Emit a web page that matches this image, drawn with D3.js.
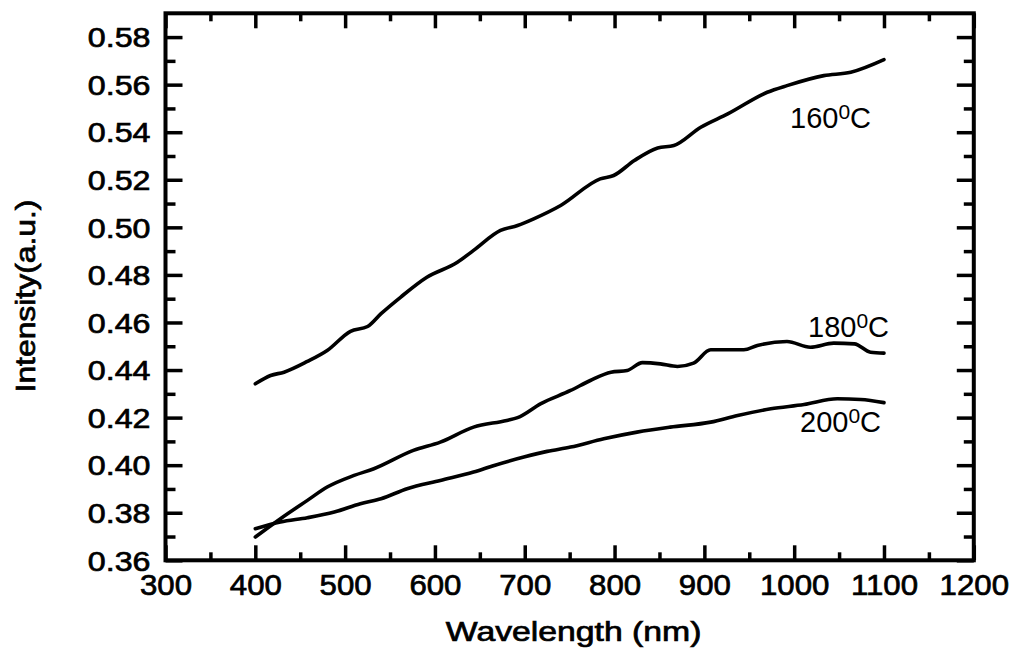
<!DOCTYPE html>
<html>
<head>
<meta charset="utf-8">
<script src="https://cdn.jsdelivr.net/npm/d3@7"></script>
<style>
  html, body { margin: 0; padding: 0; background: #fff; }
  svg { display: block; }
  text { font-family: "Liberation Sans", Arial, Helvetica, sans-serif; fill: #000; }
  .heavy { stroke: #000; stroke-width: 0.7px; }
</style>
</head>
<body>
<svg id="chart" width="1016" height="651"></svg>
<script>
// ---- data ----
const wl160 = [400,417,432,458,480,506,525,540,562,591,625,643,673,692,710,740,784,799,822,848,866,896,926,970,992,1033,1063,1100];
const int160 = [0.4342,0.4377,0.4391,0.4436,0.4482,0.4563,0.4583,0.4637,0.4707,0.4790,0.4853,0.4903,0.4987,0.5008,0.5036,0.5092,0.5204,0.5218,0.5281,0.5334,0.5344,0.5421,0.5477,0.5568,0.5596,0.5638,0.5652,0.5705];

const wl180 = [400,428,458,480,510,532,576,606,643,680,692,718,751,773,796,814,831,851,870,888,907,929,944,959,992,1018,1044,1067,1085,1100];
const int180 = [0.3698,0.3775,0.3852,0.3908,0.3957,0.3985,0.4062,0.4097,0.4160,0.4188,0.4200,0.4259,0.4314,0.4356,0.4391,0.4398,0.4431,0.4426,0.4415,0.4429,0.4485,0.4485,0.4485,0.4503,0.4520,0.4496,0.4513,0.4510,0.4475,0.4471];

const wl200 = [400,428,458,488,517,540,569,606,643,666,699,725,751,788,825,862,907,937,974,1011,1048,1074,1100];
const int200 = [0.3733,0.3761,0.3779,0.3803,0.3838,0.3859,0.3901,0.3936,0.3971,0.3999,0.4034,0.4058,0.4076,0.4111,0.4139,0.4160,0.4181,0.4209,0.4237,0.4255,0.4279,0.4276,0.4263];

const seriesLabels = ["160", "180", "200"];
const xTicks = [300,400,500,600,700,800,900,1000,1100,1200];
const xMinor = [350,450,550,650,750,850,950,1050,1150];
const yTicks = [0.36,0.38,0.40,0.42,0.44,0.46,0.48,0.50,0.52,0.54,0.56,0.58];
const yMinor = [0.37,0.39,0.41,0.43,0.45,0.47,0.49,0.51,0.53,0.55,0.57];
const xTitle = "Wavelength (nm)";
const yTitle = "Intensity(a.u.)";

// ---- layout ----
const L = 165.5, R = 973.8, T = 13.3, B = 560.3;
const svg = d3.select("#chart");
const x = d3.scaleLinear().domain([300, 1200]).range([L, R]);
const y = d3.scaleLinear().domain([0.36, 0.59]).range([B, T]);

const axisW = 4;

// bottom axis
const gB = svg.append("g").attr("transform", `translate(0,${B})`)
  .call(d3.axisBottom(x).tickValues(xTicks).tickSize(-15).tickFormat(d3.format("d")));
const gBm = svg.append("g").attr("transform", `translate(0,${B})`)
  .call(d3.axisBottom(x).tickValues(xMinor).tickSize(-8).tickFormat(""));
// top axis
const gT = svg.append("g").attr("transform", `translate(0,${T})`)
  .call(d3.axisTop(x).tickValues(xTicks).tickSize(-15).tickFormat(""));
const gTm = svg.append("g").attr("transform", `translate(0,${T})`)
  .call(d3.axisTop(x).tickValues(xMinor).tickSize(-8).tickFormat(""));
// left axis
const gL = svg.append("g").attr("transform", `translate(${L},0)`)
  .call(d3.axisLeft(y).tickValues(yTicks).tickSize(-17).tickFormat(d3.format(".2f")));
const gLm = svg.append("g").attr("transform", `translate(${L},0)`)
  .call(d3.axisLeft(y).tickValues(yMinor).tickSize(-10).tickFormat(""));
// right axis
const gR = svg.append("g").attr("transform", `translate(${R},0)`)
  .call(d3.axisRight(y).tickValues(yTicks).tickSize(-17).tickFormat(""));
const gRm = svg.append("g").attr("transform", `translate(${R},0)`)
  .call(d3.axisRight(y).tickValues(yMinor).tickSize(-10).tickFormat(""));

[gB, gBm, gT, gTm, gL, gLm, gR, gRm].forEach(g => {
  g.select(".domain").remove();
  g.selectAll(".tick line").attr("stroke", "#000").attr("stroke-width", 3.5);
});

// frame
svg.append("rect")
  .attr("x", L).attr("y", T).attr("width", R - L).attr("height", B - T)
  .attr("fill", "none").attr("stroke", "#000").attr("stroke-width", axisW);

// tick label styling
gB.selectAll(".tick text")
  .attr("y", null).attr("dy", null)
  .attr("font-size", 30)
  .attr("class", "heavy")
  .attr("transform", "translate(0,35) scale(1.04,1)")
  .attr("text-anchor", "middle");
gL.selectAll(".tick text")
  .attr("x", null).attr("dy", null)
  .attr("font-size", 28)
  .attr("class", "heavy")
  .attr("dominant-baseline", "central")
  .attr("transform", "translate(-15,0) scale(1.15,1)")
  .attr("text-anchor", "end");

// axis titles
svg.append("text")
  .attr("class", "heavy")
  .attr("transform", `translate(${(L + R) / 2 + 4},641) scale(1.25,1)`)
  .attr("text-anchor", "middle")
  .attr("font-size", 27)
  .text(xTitle);
svg.append("text")
  .attr("class", "heavy")
  .attr("transform", `translate(35,${296}) rotate(-90) scale(1.18,1)`)
  .attr("text-anchor", "middle")
  .attr("font-size", 27)
  .text(yTitle);

// curves
const line = d3.line().x(d => x(d[0])).y(d => y(d[1])).curve(d3.curveMonotoneX);
const series = [
  d3.zip(wl160, int160),
  d3.zip(wl180, int180),
  d3.zip(wl200, int200)
];
svg.append("g").selectAll("path").data(series).join("path")
  .attr("d", line)
  .attr("fill", "none")
  .attr("stroke", "#000")
  .attr("stroke-width", 3.6)
  .attr("stroke-linejoin", "round")
  .attr("stroke-linecap", "round");

// labels
const labelPos = [[790, 128], [808, 337], [800, 432]];
seriesLabels.forEach((s, i) => {
  const t = svg.append("text")
    .attr("x", labelPos[i][0]).attr("y", labelPos[i][1])
    .attr("font-size", 29);
  t.append("tspan").text(s);
  t.append("tspan").attr("font-size", 21).attr("dy", -9).text("0");
  t.append("tspan").attr("dy", 9).text("C");
});
</script>
</body>
</html>
